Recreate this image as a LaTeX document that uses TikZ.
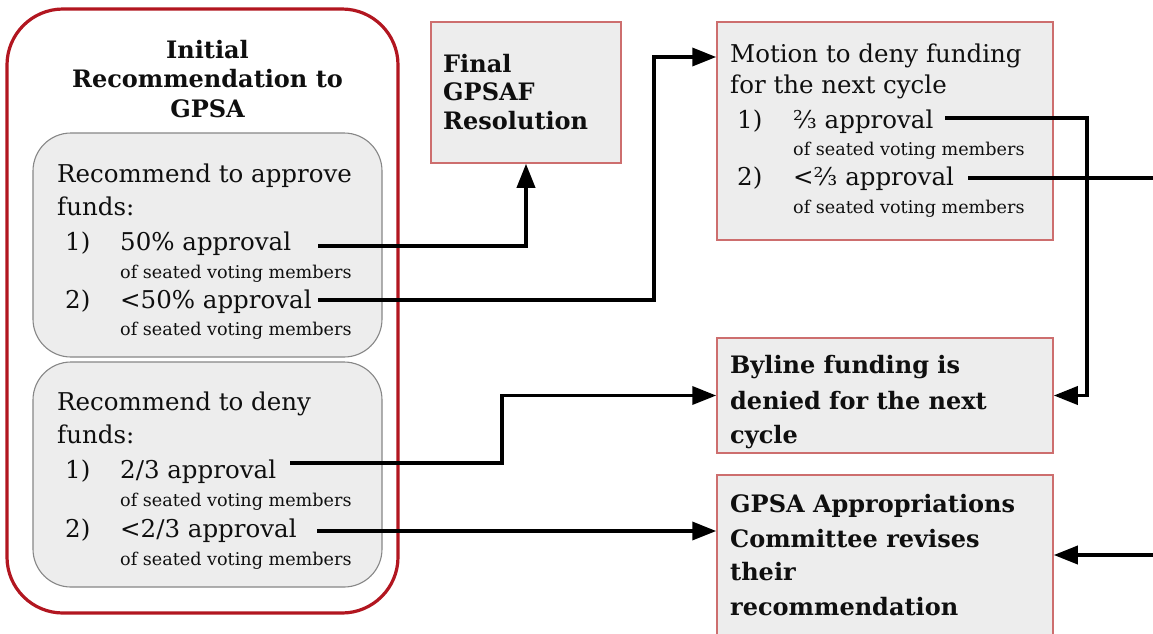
\documentclass[tikz,border=0pt]{standalone}
\usepackage{fontspec}
\setmainfont{DejaVu Serif}
\usetikzlibrary{arrows.meta,calc}
\definecolor{outerred}{RGB}{178,22,32}
\definecolor{boxline}{RGB}{205,110,110}
\definecolor{boxfill}{RGB}{237,237,237}
\definecolor{grayline}{RGB}{135,135,135}
\definecolor{txtcol}{RGB}{15,15,15}
\newcommand\txtbig{\fontsize{24.5}{29}\selectfont}
\newcommand\txtsmall{\fontsize{17.6}{20}\selectfont}
\newcommand\txtbold{\fontsize{24}{29}\selectfont\bfseries}
\begin{document}
\begin{tikzpicture}[x=1pt,y=-1pt,
  bigtxt/.style={anchor=base west,inner sep=0pt,text=txtcol,font=\txtbig},
  smalltxt/.style={anchor=base west,inner sep=0pt,text=txtcol,font=\txtsmall},
  boldtxt/.style={anchor=base west,inner sep=0pt,text=txtcol,font=\txtbold},
  titletxt/.style={anchor=base,inner sep=0pt,text=txtcol,font=\txtbold},
  rbox/.style={draw=boxline,fill=boxfill,line width=1.5pt,rectangle,inner sep=0pt},
  gbox/.style={draw=grayline,fill=boxfill,line width=1.1pt,rectangle,rounded corners=38pt,inner sep=0pt},
  outerbox/.style={draw=outerred,line width=3.2pt,rectangle,rounded corners=56pt,inner sep=0pt},
  conn/.style={draw=black,line width=3.6pt,-{Triangle[length=24pt,width=18pt]}},
  plainconn/.style={draw=black,line width=3.6pt}
]
\path[use as bounding box,fill=white] (0,0) rectangle (1153,633);
\clip (0,0) rectangle (1153,633);

% boxes
\node[outerbox,minimum width=391pt,minimum height=604pt] (outer) at (202.5,311) {};
\node[gbox,minimum width=349pt,minimum height=224pt] (g1) at (207.5,245) {};
\node[gbox,minimum width=349pt,minimum height=225pt] (g2) at (207.5,474.5) {};
\node[rbox,minimum width=190pt,minimum height=141pt] (final) at (526,92.5) {};
\node[rbox,minimum width=336pt,minimum height=218pt] (motion) at (885,131) {};
\node[rbox,minimum width=336pt,minimum height=115pt] (byline) at (885,395.5) {};
\node[rbox,minimum width=336pt,minimum height=225pt] (gpsa) at (885,587.5) {};

% title
\node[titletxt] (ti1) at (207.5,58) {Initial};
\node[titletxt] (ti2) at (207.5,87) {Recommendation to};
\node[titletxt] (ti3) at (207.5,117) {GPSA};

% approve box
\node[bigtxt] (ra1) at (57,182) {Recommend to approve};
\node[bigtxt] (ra2) at (57,215) {funds:};
\node[bigtxt] (ra3n) at (65,250) {1)};
\node[bigtxt] (ra3) at (120,250) {50\% approval};
\node[smalltxt] (ra4) at (120,278) {of seated voting members};
\node[bigtxt] (ra5n) at (65,308) {2)};
\node[bigtxt] (ra5) at (120,308) {<50\% approval};
\node[smalltxt] (ra6) at (120,335) {of seated voting members};

% deny box
\node[bigtxt] (rd1) at (57,410) {Recommend to deny};
\node[bigtxt] (rd2) at (57,443) {funds:};
\node[bigtxt] (rd3n) at (65,478) {1)};
\node[bigtxt] (rd3) at (120,478) {2/3 approval};
\node[smalltxt] (rd4) at (120,506) {of seated voting members};
\node[bigtxt] (rd5n) at (65,537) {2)};
\node[bigtxt] (rd5) at (120,537) {<2/3 approval};
\node[smalltxt] (rd6) at (120,565) {of seated voting members};

% final
\node[boldtxt] (f1) at (443,72) {Final};
\node[boldtxt] (f2) at (443,100) {GPSAF};
\node[boldtxt] (f3) at (443,129) {Resolution};

% motion
\node[bigtxt] (m1) at (730,62) {Motion to deny funding};
\node[bigtxt] (m2) at (730,93) {for the next cycle};
\node[bigtxt] (m3n) at (737,128) {1)};
\node[bigtxt] (m3) at (793,128) {⅔ approval};
\node[smalltxt] (m4) at (793,155) {of seated voting members};
\node[bigtxt] (m5n) at (737,185) {2)};
\node[bigtxt] (m5) at (793,185) {<⅔ approval};
\node[smalltxt] (m6) at (793,213) {of seated voting members};

% byline
\node[boldtxt] (b1) at (730,373) {Byline funding is};
\node[boldtxt] (b2) at (730,409) {denied for the next};
\node[boldtxt] (b3) at (730,443) {cycle};

% gpsa
\node[boldtxt] (p1) at (730,512) {GPSA Appropriations};
\node[boldtxt] (p2) at (730,547) {Committee revises};
\node[boldtxt] (p3) at (730,580) {their};
\node[boldtxt] (p4) at (730,615) {recommendation};

% connector points
\coordinate (s1) at (318,246);
\coordinate (s2) at (318,300);
\coordinate (s3) at (290,463);
\coordinate (s4) at (317,531);
\coordinate (s5) at (945,118);
\coordinate (s6) at (968,178);
\coordinate (e6) at (1160,178);
\coordinate (e7) at (1160,555);
\coordinate (j2) at (654,57);
\coordinate (j3) at (502,0);
\coordinate (j5) at (1087,0);

\draw[conn] (s1) -| (final.south);
\draw[conn] (s2) -| (j2) -- (motion.west |- j2);
\draw[conn] (s3) -| (j3 |- byline.west) -- (byline.west);
\draw[conn] (s4) -- (gpsa.west |- s4);
\draw[conn] (s5) -| (j5 |- byline.east) -- (byline.east);
\draw[plainconn] (s6) -- (e6);
\draw[conn] (e7) -- (gpsa.east |- e7);
\end{tikzpicture}
\end{document}
